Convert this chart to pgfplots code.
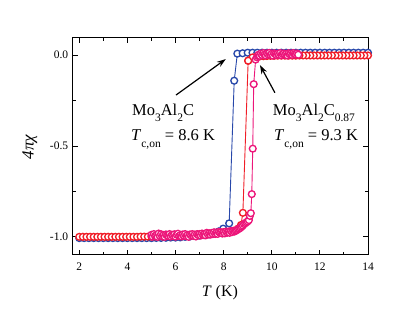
\documentclass[border=0pt]{standalone}
\usepackage{fontspec}
\setmainfont{Liberation Serif}
\usepackage{pgfplots}
\pgfplotsset{compat=1.18}
\usetikzlibrary{arrows.meta}
\definecolor{cblue}{RGB}{40,72,170}
\definecolor{cred}{RGB}{240,30,40}
\definecolor{cmag}{RGB}{236,22,122}
\newcommand\sub[2][6pt]{\raisebox{-#1}{\fontsize{11.5}{12}\selectfont #2}}
\begin{document}
\begin{tikzpicture}
\begin{axis}[
  scale only axis, width=295pt, height=217pt,
  xmin=1.74, xmax=14, ymin=-1.1, ymax=0.094,
  xtick={2,4,...,14}, minor x tick num=1,
  ytick={-1,-0.5,0}, minor y tick num=1,
  tick align=inside, major tick length=5pt, minor tick length=3pt,
  axis line style={line width=1pt, black},
  every tick/.style={black, line width=0.9pt},
  /pgf/number format/assume math mode=true,
  xticklabel style={font=\fontsize{11.5}{11.5}\selectfont, yshift=-4pt},
  yticklabel style={font=\fontsize{11.5}{11.5}\selectfont, xshift=-1.3pt,
    /pgf/number format/.cd, fixed, fixed zerofill, precision=1},
  xlabel={\textit{T} (K)},
  ylabel={\textit{4πχ}},
  xlabel style={font=\fontsize{16}{16}\selectfont, at={(axis description cs:0.498,-0.175)}, anchor=center},
  ylabel style={font=\fontsize{17}{17}\selectfont, at={(axis description cs:-0.146,0.498)}, anchor=center},
  every axis plot/.append style={line width=0.9pt},
]
% Mo3Al2C (blue)
\addplot[cblue, mark=*, mark size=3.4pt, mark options={fill=white, draw=cblue, line width=1.35pt}] coordinates {
(2.0,-1.007)(2.2,-1.007)(2.4,-1.007)(2.6,-1.007)(2.8,-1.007)(3.0,-1.007)(3.2,-1.007)(3.4,-1.007)(3.6,-1.007)(3.8,-1.007)
(4.0,-1.007)(4.2,-1.007)(4.4,-1.007)(4.6,-1.007)(4.8,-1.007)(5.0,-1.007)(5.2,-1.006)(5.4,-1.006)(5.6,-1.005)(5.8,-1.004)
(6.0,-1.004)(6.2,-1.003)(6.4,-1.000)(6.6,-0.998)(6.8,-0.995)(7.0,-0.993)(7.2,-0.990)(7.4,-0.986)(7.6,-0.980)(7.8,-0.970)
(7.98,-0.955)(8.23,-0.926)(8.44,-0.141)(8.57,0.008)(8.79,0.010)
(9.0,0.013)(9.2,0.013)(9.4,0.013)(9.6,0.013)(9.8,0.013)(10.0,0.013)(10.2,0.013)(10.4,0.013)(10.6,0.013)(10.8,0.013)
(11.0,0.013)(11.2,0.013)(11.4,0.013)(11.6,0.013)(11.8,0.013)(12.0,0.013)(12.2,0.013)(12.4,0.013)(12.6,0.013)(12.8,0.013)
(13.0,0.013)(13.2,0.013)(13.4,0.013)(13.6,0.013)(13.8,0.013)(14.0,0.013)
};
% Mo3Al2C0.87 (red), low-T part
\addplot[cred, mark=*, mark size=3.4pt, mark options={fill=white, draw=cred, line width=1.35pt}] coordinates {
(2.00,-1.000)(2.15,-1.000)(2.30,-1.000)(2.45,-1.000)(2.60,-1.000)(2.75,-1.000)(2.90,-1.000)(3.05,-1.000)(3.20,-1.000)(3.35,-1.000)
(3.50,-1.000)(3.65,-1.000)(3.80,-1.000)(3.95,-1.000)(4.10,-1.000)(4.25,-1.000)(4.40,-1.000)(4.55,-0.999)(4.70,-0.999)(4.85,-0.999)
(5.00,-0.999)(5.15,-0.998)(5.30,-0.998)(5.45,-0.998)(5.60,-0.997)(5.75,-0.997)(5.90,-0.996)(6.05,-0.995)(6.20,-0.994)(6.35,-0.993)
(6.50,-0.992)(6.65,-0.991)(6.80,-0.990)(6.95,-0.989)(7.10,-0.987)(7.25,-0.985)(7.40,-0.983)(7.55,-0.981)(7.70,-0.979)(7.85,-0.977)
(8.00,-0.975)(8.15,-0.973)(8.30,-0.970)(8.45,-0.966)(8.60,-0.955)(8.72,-0.935)(8.80,-0.868)(9.02,-0.031)
};
% red, high-T part
\addplot[cred, mark=*, mark size=3.4pt, mark options={fill=white, draw=cred, line width=1.35pt}] coordinates {
(14.00,-0.002)(13.85,-0.002)(13.70,-0.002)(13.55,-0.002)(13.40,-0.002)(13.25,-0.002)(13.10,-0.002)(12.95,-0.002)(12.80,-0.002)(12.65,-0.002)
(12.50,-0.002)(12.35,-0.002)(12.20,-0.002)(12.05,-0.002)(11.90,-0.002)(11.75,-0.002)(11.60,-0.002)(11.45,-0.002)(11.30,-0.002)(11.15,-0.002)
(11.00,-0.003)(10.85,-0.003)(10.70,-0.003)(10.55,-0.003)(10.40,-0.003)(10.25,-0.003)(10.10,-0.004)(9.95,-0.004)(9.80,-0.005)(9.65,-0.006)
(9.50,-0.007)(9.35,-0.009)(9.20,-0.013)(9.02,-0.031)
};
% magenta
\addplot[cmag, mark=*, mark size=3.4pt, mark options={fill=white, draw=cmag, line width=1.35pt}] coordinates {
(5.00,-0.989)(5.05,-0.999)(5.10,-0.985)(5.15,-0.995)(5.20,-0.992)(5.25,-1.000)(5.30,-0.982)(5.35,-0.996)(5.40,-0.986)(5.45,-0.997)
(5.50,-0.990)(5.55,-1.000)(5.60,-0.987)(5.65,-0.992)(5.70,-0.995)(5.75,-0.985)(5.80,-0.998)(5.85,-0.989)(5.90,-0.993)(5.95,-0.986)
(6.00,-0.999)(6.05,-0.988)(6.10,-0.983)(6.15,-0.996)(6.20,-0.991)(6.25,-0.998)(6.30,-0.987)(6.35,-0.994)(6.40,-0.985)(6.45,-0.997)
(6.50,-0.990)(6.55,-1.000)(6.60,-0.987)(6.65,-0.992)(6.70,-0.985)(6.75,-0.995)(6.80,-0.988)(6.85,-0.998)(6.90,-0.985)(6.95,-0.991)
(7.00,-0.985)(7.05,-0.993)(7.10,-0.982)(7.15,-0.990)(7.20,-0.985)(7.25,-0.992)(7.30,-0.978)(7.35,-0.987)(7.40,-0.981)(7.45,-0.988)
(7.50,-0.979)(7.55,-0.985)(7.60,-0.975)(7.65,-0.984)(7.70,-0.977)(7.75,-0.984)(7.80,-0.973)(7.85,-0.978)(7.90,-0.975)(7.95,-0.982)
(8.00,-0.975)(8.05,-0.981)(8.10,-0.971)(8.15,-0.977)(8.20,-0.972)(8.25,-0.978)(8.30,-0.968)(8.35,-0.974)(8.40,-0.967)(8.45,-0.971)
(8.50,-0.966)(8.55,-0.963)(8.60,-0.958)(8.65,-0.955)(8.70,-0.950)(8.75,-0.944)(8.80,-0.938)(8.85,-0.930)(8.90,-0.925)(8.95,-0.920)
(9.00,-0.915)(9.05,-0.908)(9.09,-0.885)(9.13,-0.870)(9.17,-0.765)(9.21,-0.515)(9.25,-0.160)(9.33,-0.025)(9.38,-0.012)(9.42,-0.005)
(9.45,0.002)(9.50,-0.004)(9.55,0.008)(9.60,0.000)(9.65,0.011)(9.70,0.003)(9.75,-0.002)(9.80,0.009)(9.85,0.004)(9.90,0.012)
(9.95,0.001)(10.00,0.007)(10.05,-0.003)(10.10,0.010)(10.15,0.005)(10.20,0.000)(10.25,0.008)(10.30,0.002)(10.35,0.011)(10.40,-0.001)
(10.45,0.006)(10.50,0.009)(10.55,0.002)(10.60,0.007)(10.65,-0.002)(10.70,0.010)(10.75,0.004)(10.80,0.008)(10.85,0.001)(10.90,0.011)
(10.95,0.005)(11.00,0.003)(11.05,0.009)(11.10,0.002)
};
\draw[line width=1.2pt, -{Stealth[length=9pt,width=6pt]}] (axis cs:6.02,-0.22) -- (axis cs:8.09,-0.022);
\draw[line width=1.2pt, -{Stealth[length=9pt,width=6pt]}] (axis cs:10.13,-0.207) -- (axis cs:9.51,-0.055);
\node[anchor=base west, inner sep=0pt, font=\fontsize{16.5}{18}\selectfont] at (axis cs:4.19,-0.33) {Mo\sub{3}Al\sub{2}C};
\node[anchor=base west, inner sep=0pt, font=\fontsize{16.5}{18}\selectfont] at (axis cs:4.15,-0.468) {\textit{T}\sub[7pt]{c,on} = 8.6 K};
\node[anchor=base west, inner sep=0pt, font=\fontsize{16.5}{18}\selectfont] at (axis cs:10.04,-0.33) {Mo\sub{3}Al\sub{2}C\sub{0.87}};
\node[anchor=base west, inner sep=0pt, font=\fontsize{16.5}{18}\selectfont] at (axis cs:10.09,-0.468) {\textit{T}\sub[7pt]{c,on} = 9.3 K};
\end{axis}
\path ([shift={(-73pt,-57pt)}]current axis.south west) rectangle ([shift={(47pt,38pt)}]current axis.north east);
\end{tikzpicture}
\end{document}
